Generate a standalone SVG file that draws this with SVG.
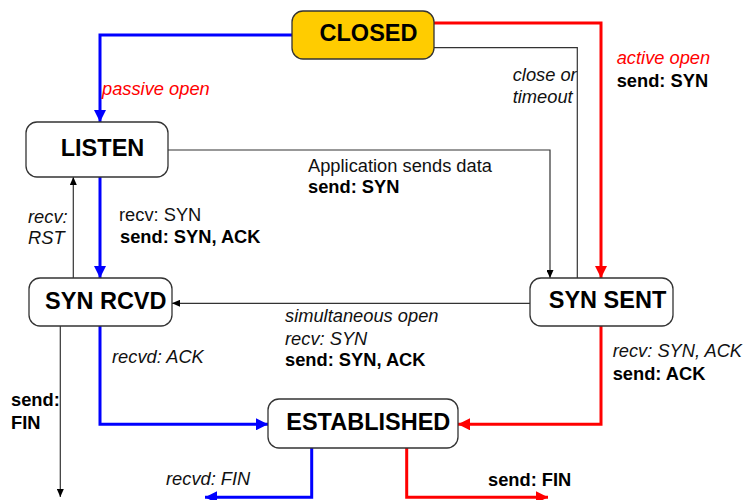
<svg xmlns="http://www.w3.org/2000/svg" width="749" height="500" viewBox="0 0 749 500">
<style>
.node{fill:#fff;stroke:#333;stroke-width:1.3}
.nt{font-family:"Liberation Sans",Arial,sans-serif;font-weight:bold;font-size:23.5px;fill:#000;text-anchor:middle}
.lb{font-family:"Liberation Sans",Arial,sans-serif;font-size:18.3px;fill:#111}
.it{font-style:italic}
.b{font-weight:bold;fill:#000}
.red{fill:#FF0000}
.thin{fill:none;stroke:#333;stroke-width:1.2}
.blue{fill:none;stroke:#0000FF;stroke-width:3}
.rd{fill:none;stroke:#FF0000;stroke-width:3}
</style>
<defs>
<marker id="ab" markerUnits="userSpaceOnUse" markerWidth="12" markerHeight="12" viewBox="0 0 12 12" refX="12" refY="6" orient="auto"><path d="M0,0 L12,6 L0,12 z" fill="#0000FF"/></marker>
<marker id="ar" markerUnits="userSpaceOnUse" markerWidth="12" markerHeight="12" viewBox="0 0 12 12" refX="12" refY="6" orient="auto"><path d="M0,0 L12,6 L0,12 z" fill="#FF0000"/></marker>
<marker id="ak" markerUnits="userSpaceOnUse" markerWidth="8" markerHeight="7" viewBox="0 0 8 7" refX="8" refY="3.5" orient="auto"><path d="M0,0 L8,3.5 L0,7 z" fill="#000"/></marker>
</defs>
<g id="connectors">
<path class="blue" d="M292,35 H100 V122" marker-end="url(#ab)"/>
<path class="rd" d="M434,23 H601 V278" marker-end="url(#ar)"/>
<path class="thin" d="M577.3,278 V47.7 H434"/>
<path class="thin" d="M168,150 H550 V278" marker-end="url(#ak)"/>
<path class="blue" d="M100,177 V278" marker-end="url(#ab)"/>
<path class="thin" d="M73.3,278 V177" marker-end="url(#ak)"/>
<path class="thin" d="M530,303.3 H172" marker-end="url(#ak)"/>
<path class="blue" d="M100,326 V424.3 H268" marker-end="url(#ab)"/>
<path class="thin" d="M60.3,326 V497" marker-end="url(#ak)"/>
<path class="rd" d="M601,326 V424.3 H458" marker-end="url(#ar)"/>
<path class="blue" d="M311.7,448 V497.3 H205" marker-end="url(#ab)"/>
<path class="rd" d="M406.7,448 V497.3 H548" marker-end="url(#ar)"/>
<text class="lb it red" x="102" y="95">passive open</text>
<text class="lb it" x="512.7" y="81">close or</text>
<text class="lb it" x="512.7" y="103">timeout</text>
<text class="lb it red" x="616.7" y="64">active open</text>
<text class="lb b" x="616.7" y="87">send: SYN</text>
<text class="lb" x="308" y="171.5">Application sends data</text>
<text class="lb b" x="308" y="193">send: SYN</text>
<text class="lb" x="119" y="220.7">recv: SYN</text>
<text class="lb b" x="120" y="243">send: SYN, ACK</text>
<text class="lb it" x="28" y="222.7">recv:</text>
<text class="lb it" x="28" y="244">RST</text>
<text class="lb it" x="285" y="321.7">simultaneous open</text>
<text class="lb it" x="285" y="345">recv: SYN</text>
<text class="lb b" x="285" y="366">send: SYN, ACK</text>
<text class="lb it" x="112" y="363">recvd: ACK</text>
<text class="lb b" x="11" y="406">send:</text>
<text class="lb b" x="11" y="429">FIN</text>
<text class="lb it" x="612.7" y="357">recv: SYN, ACK</text>
<text class="lb b" x="612.7" y="380">send: ACK</text>
<text class="lb it" x="166" y="485">recvd: FIN</text>
<text class="lb b" x="488" y="485.7">send: FIN</text>
</g>
<g id="closed"><rect class="node" x="292" y="11" width="142" height="48" rx="11" style="fill:#FFCC00"/><text class="nt" x="368.5" y="40.7">CLOSED</text></g>
<g id="listen"><rect class="node" x="26" y="122" width="142" height="55" rx="11"/><text class="nt" x="102.5" y="155.7">LISTEN</text></g>
<g id="synrcvd"><rect class="node" x="29" y="278" width="143" height="48" rx="11"/><text class="nt" x="105.8" y="309">SYN RCVD</text></g>
<g id="synsent"><rect class="node" x="530" y="278" width="143" height="48" rx="11"/><text class="nt" x="607.5" y="308.3">SYN SENT</text></g>
<g id="established"><rect class="node" x="268" y="399" width="190" height="49" rx="11"/><text class="nt" x="368.3" y="430">ESTABLISHED</text></g>
</svg>
